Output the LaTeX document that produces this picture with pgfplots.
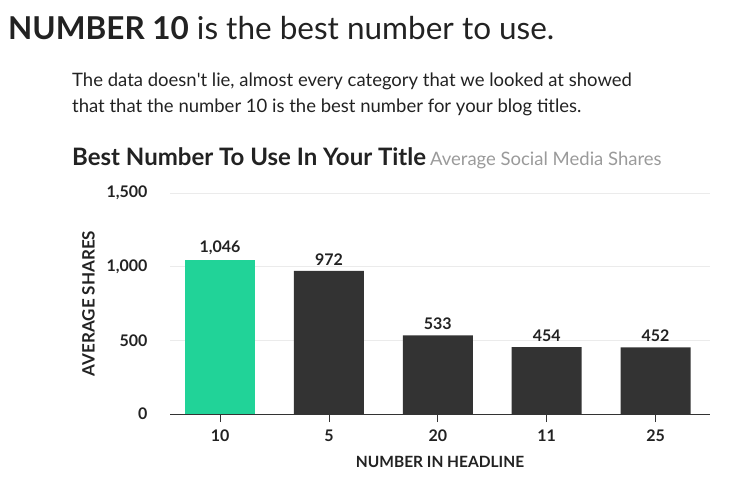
\documentclass[border=0pt]{standalone}
\usepackage{pgfplots}
\pgfplotsset{compat=1.18}
\usepackage{fontspec}
\setmainfont{Lato}
\definecolor{barGreen}{HTML}{21D398}
\definecolor{barDark}{HTML}{333333}
\definecolor{txtDark}{HTML}{222222}
\definecolor{txtGray}{HTML}{9A9A9A}
\definecolor{gridGray}{HTML}{EBEBEB}
\begin{document}
\begin{tikzpicture}
\useasboundingbox (0,0) rectangle (730pt,479pt);
% headline and intro text
\node[anchor=base west, inner sep=0, text=txtDark] at (8pt,439pt)
  {\fontsize{31.5}{36}\selectfont\textbf{NUMBER 10} is the best number to use.};
\node[anchor=base west, inner sep=0, text=txtDark] at (72pt,392pt)
  {\fontsize{18.5}{22}\selectfont The data doesn\textquotesingle t lie, almost every category that we looked at showed};
\node[anchor=base west, inner sep=0, text=txtDark] at (72pt,366pt)
  {\fontsize{18.5}{22}\selectfont that that the number 10 is the best number for your blog titles.};
\node[anchor=base west, inner sep=0, text=txtDark] at (72pt,313pt)
  {\fontsize{24}{28}\selectfont\textbf{Best Number To Use In Your Title}\hspace{4pt}%
   {\fontsize{18.5}{22}\selectfont\color{txtGray}Average Social Media Shares}};
\begin{axis}[
    at={(170pt,65pt)}, anchor=south west,
    scale only axis,
    width=540pt, height=221pt,
    xmin=-0.46, xmax=4.5,
    ymin=0, ymax=1500,
    ybar, bar width=70pt, bar shift=0pt,
    xtick={0,1,2,3,4},
    xticklabels={10,5,20,11,25},
    ytick={0,500,1000,1500},
    axis x line*=bottom,
    axis y line*=left,
    y axis line style={draw=none},
    x axis line style={draw=barDark, line width=1pt},
    xtick align=outside,
    xtick style={draw=barDark, line width=0.8pt},
    ytick style={draw=none},
    major tick length=8pt,
    ymajorgrids,
    major grid style={draw=gridGray, line width=0.8pt},
    /pgf/number format/assume math mode=true,
    /pgf/number format/1000 sep={,},
    ticklabel style={font=\fontsize{16}{18}\selectfont\bfseries, text=txtDark},
    yticklabel style={xshift=-19pt},
    xticklabel style={yshift=-4pt},
    xlabel={NUMBER IN HEADLINE},
    ylabel={AVERAGE SHARES},
    xlabel style={font=\fontsize{15.5}{18}\selectfont\bfseries, text=txtDark, yshift=-8pt},
    ylabel style={font=\fontsize{17}{20}\selectfont\bfseries, text=txtDark, yshift=5pt},
    nodes near coords,
    every node near coord/.append style={font=\fontsize{16}{18}\selectfont\bfseries, text=txtDark, yshift=2pt},
]
\addplot[fill=barGreen, draw=none] coordinates {(0,1046)};
\addplot[fill=barDark, draw=none] coordinates {(1,972) (2,533) (3,454) (4,452)};
\end{axis}
\end{tikzpicture}
\end{document}
